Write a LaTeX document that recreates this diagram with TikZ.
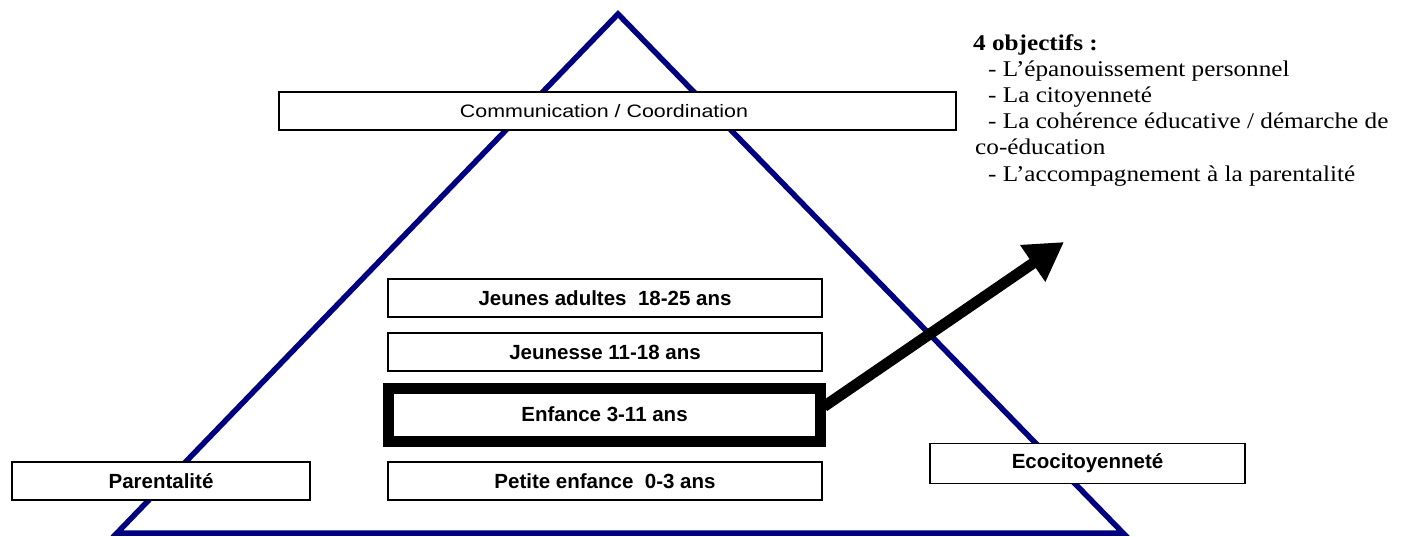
\documentclass[tikz,border=0pt]{standalone}
\usepackage{fontspec}
\setmainfont{Liberation Serif}
\newfontfamily\objfont[FakeStretch=1.12]{Liberation Serif}
\newfontfamily\boxfont{Liberation Sans}
\newfontfamily\commfont[FakeStretch=1.19]{Liberation Sans}
\usetikzlibrary{arrows.meta}
\definecolor{navyline}{RGB}{0,0,128}
\tikzset{
  agebox/.style={draw=black, line width=1.8pt, fill=white, minimum height=38pt, inner sep=0pt, font=\boxfont\bfseries\fontsize{20.5}{23}\selectfont},
  thickbox/.style={draw=black, line width=11pt, fill=white, minimum height=53pt, inner sep=0pt, font=\boxfont\bfseries\fontsize{20.5}{23}\selectfont},
  bigarrow/.style={line width=11pt, -{Triangle[length=38pt,width=42pt]}},
  listtext/.style={anchor=north west, inner sep=0pt, align=left, font=\objfont\fontsize{22.5}{26.2}\selectfont}
}
\begin{document}
\begin{tikzpicture}[x=1pt,y=-1pt]
\useasboundingbox (0,0) rectangle (1420,537);
% triangle
\coordinate (apex) at (618,14);
\coordinate (bl) at (117,533);
\coordinate (br) at (1123,533);
\draw[navyline, line width=5.5pt, line join=miter] (apex) -- (br) -- (bl) -- cycle;
% boxes
\node[agebox, minimum width=677pt, minimum height=38pt, font=\commfont\fontsize{18}{20}\selectfont] (comm) at (617.5,111) {\hspace*{0pt}Communication / Coordination\hspace*{27pt}};
\node[agebox, minimum width=434pt] (ja) at (605,298) {Jeunes adultes \ 18-25 ans};
\node[agebox, minimum width=434pt] (je) at (605,352) {Jeunesse 11-18 ans};
\node[thickbox, minimum width=432pt] (en) at (604.5,414.5) {Enfance 3-11 ans};
\node[agebox, minimum width=434pt] (pe) at (605,481) {Petite enfance \ 0-3 ans};
\node[agebox, minimum width=298pt] (par) at (161,481) {Parentalité};
\node[agebox, minimum width=315pt, minimum height=40pt] (eco) at (1087.5,463.5) {Ecocitoyenneté};
% arrow
\coordinate (tip) at (1064,242);
\draw[bigarrow] (en.east) ++(-2,-8) -- (tip);
% objectives text
\node[listtext] (obj) at (973,34) {\textbf{4 objectifs :}\\
\hspace{15pt}- L’épanouissement personnel\\
\hspace{15pt}- La citoyenneté\\
\hspace{15pt}- La cohérence éducative / démarche de\\
\hspace{2pt}co-éducation\\
\hspace{15pt}- L’accompagnement à la parentalité};
\end{tikzpicture}
\end{document}
